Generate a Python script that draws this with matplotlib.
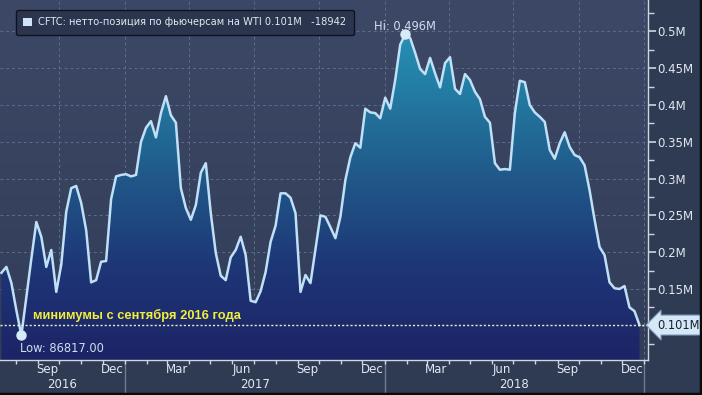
import numpy as np
import pandas as pd
import matplotlib
matplotlib.use("Agg")
import matplotlib.pyplot as plt
import matplotlib.dates as mdates
from matplotlib.colors import LinearSegmentedColormap
from matplotlib.patches import Patch
import matplotlib.transforms as mtransforms

# ---- data (thousands of contracts), weekly CFTC reports ----
start_date = "2016-07-12"
net_position = [
    172, 180, 158, 121, 86.817, 139, 191, 241, 221, 180,
    203, 146, 183, 255, 287, 290, 267, 230, 159, 162,
    187, 188, 272, 303, 305, 306, 303, 305, 350, 369,
    378, 356, 389, 412, 386, 376, 287, 260, 244, 264,
    308, 321, 253, 199, 168, 162, 193, 203, 221, 196,
    134, 132, 147, 173, 214, 236, 280, 280, 274, 253,
    146, 169, 158, 204, 250, 248, 234, 219, 248, 298,
    329, 348, 342, 395, 390, 389, 382, 410, 395, 434,
    482, 496, 491, 471, 449, 442, 464, 443, 424, 457,
    465, 422, 415, 442, 434, 418, 408, 384, 376, 321,
    312, 313, 312, 389, 433, 431, 400, 390, 384, 377,
    339, 327, 348, 363, 343, 332, 329, 318, 284, 244,
    207, 196, 159, 151, 150, 154, 125, 119.9, 101,
]
dates = pd.date_range(start_date, periods=len(net_position), freq="7D")
legend_label = "CFTC: нетто-позиция по фьючерсам на WTI 0.101M   -18942"
note_text = "минимумы с сентября 2016 года"
hi_label = "Hi: 0.496M"
low_label = "Low: 86817.00"
last_label = "0.101M"
y_ticks = [150, 200, 250, 300, 350, 400, 450, 500]
month_labels = ["Sep", "Dec", "Mar", "Jun", "Sep", "Dec", "Mar", "Jun", "Sep", "Dec"]
month_label_dates = ["2016-09-15", "2016-12-15", "2017-03-15", "2017-06-15", "2017-09-15",
                     "2017-12-15", "2018-03-15", "2018-06-15", "2018-09-15", "2018-12-15"]
years = ["2016", "2017", "2018"]

vals = np.array(net_position, dtype=float)
x = mdates.date2num(dates)

W, H = 702, 395
fig = plt.figure(figsize=(W / 100, H / 100), dpi=100)
fig.patch.set_facecolor("#2f3a53")
ax = fig.add_axes([0, 35 / H, 648 / W, 360 / H])

xmin = mdates.date2num(pd.Timestamp("2016-07-10"))
xmax = mdates.date2num(pd.Timestamp("2019-01-06"))
ymin, ymax = 53.5, 542.7
ax.set_xlim(xmin, xmax)
ax.set_ylim(ymin, ymax)

# background gradient
bg_cmap = LinearSegmentedColormap.from_list("bg", ["#323d59", "#3d4866"])
ax.imshow(np.linspace(0, 1, 256).reshape(-1, 1), extent=[xmin, xmax, ymin, ymax],
          origin="lower", aspect="auto", cmap=bg_cmap, zorder=0)

# grid
for v in [100] + y_ticks:
    ax.axhline(v, color="#5d6d8c", lw=0.7, ls=(0, (3, 3)), zorder=1)
for q in pd.date_range("2016-10-01", "2019-01-01", freq="QS"):
    ax.axvline(mdates.date2num(q), color="#5d6d8c", lw=0.7, ls=(0, (3, 3)), zorder=1)

# gradient fill under line
fill_cmap = LinearSegmentedColormap.from_list(
    "fill", ["#1c2466", "#1e3576", "#205788", "#237ca3", "#2a9cbd"])
poly = ax.fill_between(x, vals, ymin, facecolor="none", edgecolor="none")
im = ax.imshow(np.linspace(0, 1, 256).reshape(-1, 1), extent=[xmin, xmax, ymin, ymax],
               origin="lower", aspect="auto", cmap=fill_cmap, zorder=2)
im.set_clip_path(poly.get_paths()[0], transform=ax.transData)

ax.plot(x, vals, color="#bfe0f7", lw=1.8, zorder=4, solid_joinstyle="round")

# reference dotted line at last value
ax.axhline(vals[-1], color="#eeeec0", lw=1.0, ls=(0, (1.5, 1.5)), zorder=5)
ax.text(mdates.date2num(pd.Timestamp("2016-08-25")), vals[-1] + 4, note_text,
        color="#f2ee3a", fontsize=9.3, fontweight="bold", family="Liberation Sans",
        ha="left", va="bottom", zorder=6)

# hi / low markers
i_hi = int(np.argmax(vals))
i_lo = int(np.argmin(vals))
ax.plot([x[i_hi], x[i_lo]], [vals[i_hi], vals[i_lo]], "o", color="#d6eafa",
        ms=6.5, zorder=7)
ax.annotate(hi_label, (x[i_hi], vals[i_hi]), xytext=(0, 1), textcoords="offset points",
            ha="center", va="bottom", color="#cfdff0", fontsize=8.3, zorder=7)
ax.annotate(low_label, (x[i_lo], vals[i_lo]), xytext=(-1, -5), textcoords="offset points",
            ha="left", va="top", color="#cfdff0", fontsize=8.3, zorder=7)

# axes styling
for s in ["left", "top"]:
    ax.spines[s].set_visible(False)
for s in ["bottom", "right"]:
    ax.spines[s].set_color("#d0d6de")
    ax.spines[s].set_linewidth(1.0)
    ax.spines[s].set_zorder(8)

ax.yaxis.tick_right()
ax.set_yticks(y_ticks)
ax.set_yticklabels([f"{v/1000:g}M" for v in y_ticks])
ax.set_yticks(np.arange(75, 550, 50), minor=True)
ax.tick_params(axis="y", which="major", direction="out", length=6, width=1.2,
               colors="#d0d6de", labelcolor="#e2e8f0", labelsize=8.5, pad=1)
ax.tick_params(axis="y", which="minor", direction="out", length=4, width=1.0,
               colors="#d0d6de")

month_starts = mdates.date2num(pd.date_range("2016-08-01", "2019-01-01", freq="MS"))
ax.set_xticks(month_starts)
ax.xaxis.set_major_formatter(plt.NullFormatter())
ax.set_xticks(mdates.date2num(pd.to_datetime(month_label_dates)), minor=True)
ax.set_xticklabels(month_labels, minor=True)
ax.tick_params(axis="x", which="major", direction="out", length=3, width=1.0,
               colors="#d0d6de")
ax.tick_params(axis="x", which="minor", length=0, labelcolor="#e2e8f0",
               labelsize=8.5, pad=2)

# year labels and separators
trans = mtransforms.blended_transform_factory(ax.transData, ax.transAxes)
bounds = [xmin] + list(mdates.date2num(pd.to_datetime(["2017-01-01", "2018-01-01"]))) + \
         [mdates.date2num(pd.Timestamp("2019-01-01"))]
for j, yr in enumerate(years):
    cx = (bounds[j] + bounds[j + 1]) / 2
    ax.text(cx, -24 / 360, yr, transform=trans, ha="center", va="center",
            color="#e2e8f0", fontsize=8.5)
for b in bounds[1:]:
    ax.plot([b, b], [0, -35 / 360], transform=trans, color="#707c90", lw=1,
            clip_on=False, zorder=1)

# last value tag
trans_r = mtransforms.blended_transform_factory(ax.transAxes, ax.transData)
ax.annotate(last_label, xy=(1.0, vals[-1]), xycoords=trans_r, xytext=(6.5, 0),
            textcoords="offset points", ha="left", va="center", color="#1a2030",
            fontsize=8.3, zorder=9, annotation_clip=False,
            bbox=dict(boxstyle="larrow,pad=0.3", fc="#d5e8f8", ec="#7f9cc0", lw=0.8))

# legend
leg = ax.legend(handles=[Patch(facecolor="#d0e4f8", edgecolor="none")],
                labels=[legend_label], loc="upper left",
                bbox_to_anchor=(16 / 648, 1 - 10 / 360), frameon=True, fancybox=True,
                fontsize=7.1, handlelength=0.9, handleheight=0.9, handletextpad=0.6,
                borderpad=0.75, borderaxespad=0)
leg.get_frame().set_facecolor("#2b354e")
leg.get_frame().set_edgecolor("#0e1320")
leg.get_frame().set_alpha(1)
leg.get_frame().set_linewidth(1.0)
for t in leg.get_texts():
    t.set_color("#e2e8f0")
leg.set_zorder(10)

# thin dark border at image edge
fig.add_artist(plt.Line2D([0, 1], [1 / H, 1 / H], transform=fig.transFigure,
                          color="#0a0a0a", lw=2.5))
fig.add_artist(plt.Line2D([1 - 1 / W, 1 - 1 / W], [0, 1], transform=fig.transFigure,
                          color="#0a0a0a", lw=2.5))

fig.savefig("out.png", dpi=100, facecolor=fig.get_facecolor())
